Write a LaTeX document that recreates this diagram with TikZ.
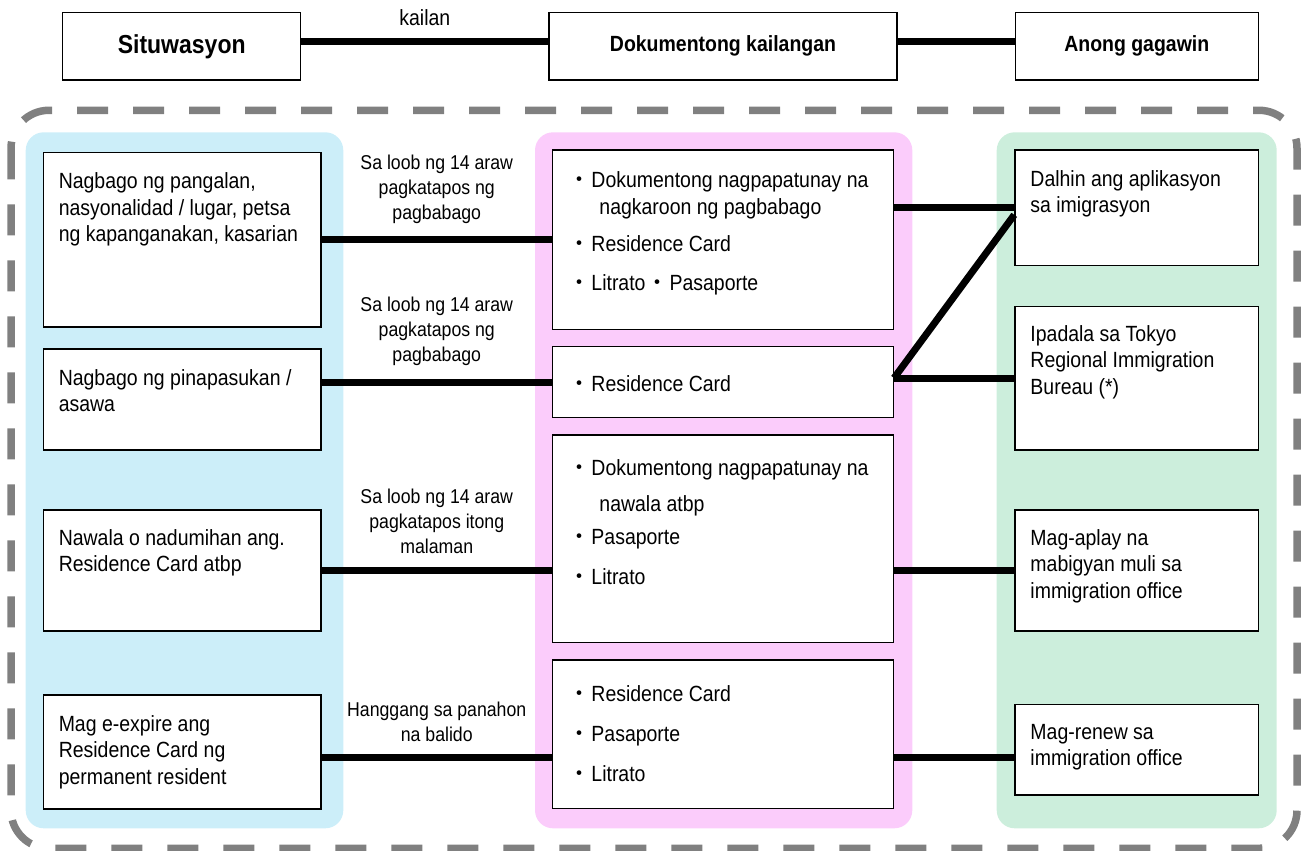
\documentclass[tikz,border=0pt]{standalone}
\usepackage{fontspec}
\setmainfont{Liberation Sans}[FakeStretch=0.885]
\newfontfamily\jpfont{Noto Sans CJK JP}

\definecolor{sitblue}{HTML}{CCEEF9}
\definecolor{dokpink}{HTML}{FBCCFB}
\definecolor{anogreen}{HTML}{CCEEDC}
\definecolor{dashgray}{HTML}{808080}
\newcommand{\bul}{\makebox[24pt]{\jpfont ・}}

\begin{document}
\begin{tikzpicture}[x=1pt, y=-1pt,
    box/.style={draw=black, line width=1.5pt, fill=white, inner sep=0pt},
    txt/.style={anchor=north west, inner sep=0pt, align=left,
        font=\fontsize{22}{26.5}\selectfont, execute at begin node=\strut},
    lbl/.style={inner sep=0pt, align=center, font=\fontsize{20}{25}\selectfont},
    conn/.style={line width=7pt}]
    \useasboundingbox (0,0) rectangle (1301,851);

    % Dashed frame and coloured columns
    \draw[dashgray, line width=7.5pt, dash pattern=on 31pt off 25pt,
        rounded corners=38pt] (11,110.3) rectangle (1297,848.3);
    \fill[sitblue, rounded corners=18pt] (25.7,132.3) rectangle (343.3,828.3);
    \fill[dokpink, rounded corners=18pt] (535,132.3) rectangle (912.3,828.3);
    \fill[anogreen, rounded corners=18pt] (996.7,132.3) rectangle (1276.7,828.3);

    % Header boxes
    \node[box, minimum width=238pt, minimum height=67.3pt] (sit) at (181.7,46.35)
        {\fontsize{26}{30}\selectfont\bfseries Situwasyon};
    \node[box, minimum width=348pt, minimum height=67.3pt] (dok) at (723,46.35)
        {\fontsize{22}{26}\selectfont\bfseries Dokumentong kailangan};
    \node[box, minimum width=243pt, minimum height=67.3pt] (ano) at (1136.75,46.35)
        {\fontsize{22}{26}\selectfont\bfseries Anong gagawin};

    % Boxes
    % -- left column
    \node[box, minimum width=277.7pt, minimum height=174.5pt] (s1) at (182.15,239.75) {};
    \node[box, minimum width=277.7pt, minimum height=101pt] (s2) at (182.15,399.5) {};
    \node[box, minimum width=277.7pt, minimum height=121pt] (s3) at (182.15,570.5) {};
    \node[box, minimum width=277.7pt, minimum height=114pt] (s4) at (182.15,752) {};

    % -- middle column
    \node[box, minimum width=340.8pt, minimum height=179.3pt] (d1) at (722.9,239.65) {};
    \node[box, minimum width=340.8pt, minimum height=70.6pt] (d2) at (722.9,382) {};
    \node[box, minimum width=340.8pt, minimum height=207.7pt] (d3) at (722.9,538.85) {};
    \node[box, minimum width=340.8pt, minimum height=148.3pt] (d4) at (722.9,734.15) {};

    % -- right column
    \node[box, minimum width=243.3pt, minimum height=115.7pt] (g1) at (1136.65,207.85) {};
    \node[box, minimum width=243.3pt, minimum height=143.3pt] (g2) at (1136.65,378.35) {};
    \node[box, minimum width=243.3pt, minimum height=121pt] (g3) at (1136.65,570.5) {};
    \node[box, minimum width=243.3pt, minimum height=90.7pt] (g4) at (1136.65,749.65) {};

    % Box texts
    \node[txt] (s1t) at ([shift={(16,21)}]s1.north west)
        {Nagbago ng pangalan,\\nasyonalidad / lugar, petsa\\ng kapanganakan, kasarian};
    \node[txt] (s2t) at ([shift={(16,21)}]s2.north west)
        {Nagbago ng pinapasukan /\\asawa};
    \node[txt] (s3t) at ([shift={(16,20)}]s3.north west)
        {Nawala o nadumihan ang.\\Residence Card atbp};
    \node[txt] (s4t) at ([shift={(16,21)}]s4.north west)
        {Mag e-expire ang\\Residence Card ng\\permanent resident};

    \node[txt] (d1t) at ([shift={(15.5,22.5)}]d1.north west)
        {\bul Dokumentong nagpapatunay na\\\hspace*{32pt}nagkaroon ng pagbabago\\[10.8pt]%
         \bul Residence Card\\[12.5pt]\bul Litrato\bul Pasaporte};
    \node[txt] (d2t) at ([shift={(15.5,26.5)}]d2.north west) {\bul Residence Card};
    \node[txt] (d3t) at ([shift={(15.5,25.5)}]d3.north west)
        {\bul Dokumentong nagpapatunay na\\[8.8pt]\hspace*{32pt}nawala atbp\\[6.5pt]%
         \bul Pasaporte\\[13.9pt]\bul Litrato};
    \node[txt] (d4t) at ([shift={(15.5,25.8)}]d4.north west)
        {\bul Residence Card\\[13.5pt]\bul Pasaporte\\[13.5pt]\bul Litrato};

    \node[txt] (g1t) at ([shift={(16,21)}]g1.north west)
        {Dalhin ang aplikasyon\\sa imigrasyon};
    \node[txt] (g2t) at ([shift={(16,19)}]g2.north west)
        {Ipadala sa Tokyo\\Regional Immigration\\Bureau (*)};
    \node[txt] (g3t) at ([shift={(16,20)}]g3.north west)
        {Mag-aplay na\\mabigyan muli sa\\immigration office};
    \node[txt] (g4t) at ([shift={(16,20.5)}]g4.north west)
        {Mag-renew sa\\immigration office};

    % Connectors
    % -- header
    \draw[conn] ([yshift=5pt]sit.east) -- node[lbl, above=12pt, font=\fontsize{22}{26}\selectfont]
        (kailan) {kailan} ([yshift=5pt]dok.west);
    \draw[conn] ([yshift=5pt]dok.east) -- ([yshift=5pt]ano.west);

    % -- row 1
    \draw[conn] (s1.east) -- node[lbl, above=13pt] (when1)
        {Sa loob ng 14 araw\\pagkatapos ng\\pagbabago} (s1.east -| d1.west);
    \draw[conn] (d1.east |- g1.west) -- (g1.west);

    % -- row 2
    \draw[conn] (s2.east |- d2.west) -- node[lbl, above=13pt] (when2)
        {Sa loob ng 14 araw\\pagkatapos ng\\pagbabago} (d2.west);
    \draw[conn] (d2.east |- g2.west) -- (g2.west);
    \draw[conn] ([yshift=4pt]d2.east) -- ([yshift=-7pt]g1.west);

    % -- row 3
    \draw[conn] (s3.east) -- node[lbl, above=13pt] (when3)
        {Sa loob ng 14 araw\\pagkatapos itong\\malaman} (s3.east -| d3.west);
    \draw[conn] (d3.east |- g3.west) -- (g3.west);

    % -- row 4
    \coordinate (r4) at (0,757.7);
    \draw[conn] (s4.east |- r4) -- node[lbl, above=13pt] (when4)
        {Hanggang sa panahon\\na balido} (d4.west |- r4);
    \draw[conn] (d4.east |- r4) -- (g4.west |- r4);
\end{tikzpicture}
\end{document}
